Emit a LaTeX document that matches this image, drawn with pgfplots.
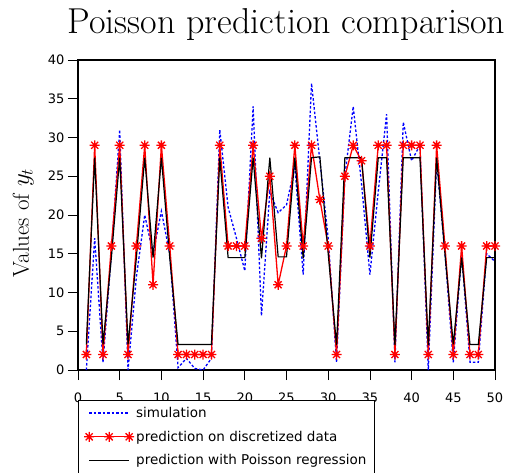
\documentclass[border=0pt]{standalone}
\usepackage{fontspec}
\usepackage{pgfplots}
\pgfplotsset{compat=1.18}
\usepackage{pgfplotstable}
\newfontfamily\sans{DejaVu Sans}

% 8-spoke star like the matlab '*' marker
\pgfdeclareplotmark{mstar}{%
  \pgfpathmoveto{\pgfqpoint{-\pgfplotmarksize}{0pt}}\pgfpathlineto{\pgfqpoint{\pgfplotmarksize}{0pt}}%
  \pgfpathmoveto{\pgfqpoint{0pt}{-\pgfplotmarksize}}\pgfpathlineto{\pgfqpoint{0pt}{\pgfplotmarksize}}%
  \pgfpathmoveto{\pgfqpoint{-.707\pgfplotmarksize}{-.707\pgfplotmarksize}}\pgfpathlineto{\pgfqpoint{.707\pgfplotmarksize}{.707\pgfplotmarksize}}%
  \pgfpathmoveto{\pgfqpoint{-.707\pgfplotmarksize}{.707\pgfplotmarksize}}\pgfpathlineto{\pgfqpoint{.707\pgfplotmarksize}{-.707\pgfplotmarksize}}%
  \pgfusepathqstroke}

\pgfplotstableread{
x  sim   disc  pois
1  0     2     3.3
2  17    29    27.4
3  1     2     3.3
4  15    16    14.5
5  31    29    27.4
6  0     2     3.3
7  12    16    14.5
8  20    29    27.4
9  15    11    14.5
10 20.5  29    27.4
11 15    16    14.5
12 0.3   2     3.3
13 1.5   2     3.3
14 0.2   2     3.3
15 0     2     3.3
16 1.5   2     3.3
17 31    29    27.4
18 21    16    14.5
19 17    16    14.5
20 12.8  16    14.5
21 34    29    27.4
22 7     17    14.4
23 23    25    27.4
24 20.3  11    14.6
25 21.3  16    14.6
26 26.3  29    27.4
27 12.3  16    14.4
28 37    29    27.4
29 27    22    27.5
30 17    16    15
31 1     2     3.2
32 25    25    27.4
33 34    29    27.4
34 24    27    27.4
35 12.3  16    14.5
36 23    29    27.4
37 33    29    27.4
38 1     2     3.2
39 32    29    27.4
40 27    29    27.4
41 29    29    27.4
42 0     2     3.2
43 27    29    27.4
44 15    16    15
45 1     2     3.3
46 15    16    14.5
47 1     2     3.3
48 1     2     3.3
49 15    16    14.5
50 14    16    14.5
}\predtable

\begin{document}
\begin{tikzpicture}
\begin{axis}[
    at={(0,0)}, anchor=south west,
    scale only axis, width=417pt, height=310pt,
    xmin=0, xmax=50, ymin=0, ymax=40,
    xtick={0,5,...,50}, ytick={0,5,...,40},
    tick align=outside, tick pos=left, major tick length=10pt,
    axis line style={line width=1.4pt},
    every tick/.style={black, line width=0.8pt},
    ticklabel style={font=\sans\fontsize{13}{15}\selectfont},
    xticklabel style={yshift=-9pt},
    /pgf/number format/assume math mode=true,
    title={Poisson prediction comparison},
    every axis title/.style={at={(axis description cs:0.5,1)}, anchor=base,
        yshift=27pt, font=\fontsize{36}{41}\selectfont},
    ylabel={Values of $y_t$},
    every axis y label/.style={at={(axis description cs:0,0.5)}, xshift=-49pt, yshift=-8pt,
        rotate=90, anchor=base, font=\fontsize{23}{27}\selectfont},
    legend style={at={(axis description cs:0,0)}, anchor=north west, yshift=-30pt,
        draw=black, inner xsep=6pt, inner ysep=5pt,
        row sep=8pt, font=\sans\fontsize{13.5}{16}\selectfont},
    legend cell align=left,
    legend image code/.code={\draw[mark repeat=1,mark phase=1,#1]
        plot coordinates {(0pt,0pt)(20pt,0pt)(40pt,0pt)};},
]
\addplot[color=blue, draw=blue, line width=1.3pt, dash pattern=on 2.5pt off 2pt]
    table[x=x, y=sim] {\predtable};
\addplot[color=red, draw=red, line width=1.3pt, mark=mstar, mark size=5pt,
    mark options={solid, draw=red}]
    table[x=x, y=disc] {\predtable};
\addplot[color=black, draw=black, line width=1.2pt]
    table[x=x, y=pois] {\predtable};
\legend{simulation, prediction on discretized data, prediction with Poisson regression}
\end{axis}
\pgfresetboundingbox
\path[use as bounding box] (-78pt,-102pt) rectangle (434pt,370pt);
\end{tikzpicture}
\end{document}
